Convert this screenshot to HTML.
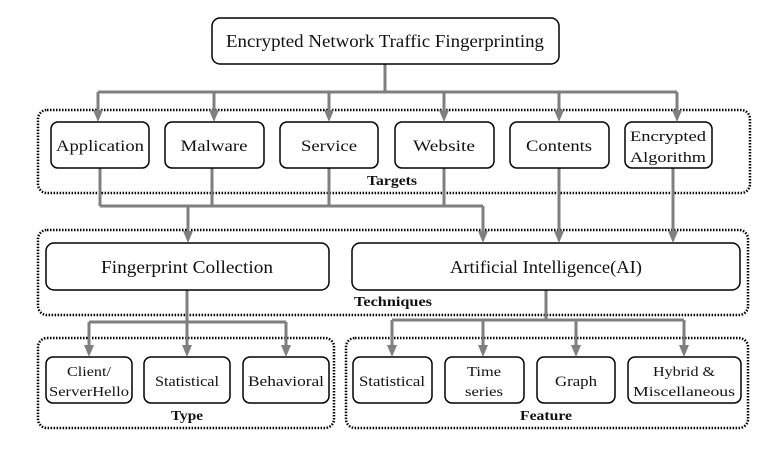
<!DOCTYPE html>
<html><head><meta charset="utf-8"><style>body{margin:0;background:#fff}svg{display:block}</style></head><body>
<svg width="768" height="450" viewBox="0 0 768 450" xmlns="http://www.w3.org/2000/svg" font-family="Liberation Serif, serif">
<g fill="none" stroke="#000" stroke-width="2.5" stroke-dasharray="1.5 1.5">
<rect x="38" y="110" width="712" height="83" rx="9"/>
<rect x="38" y="230" width="710" height="85" rx="9"/>
<rect x="38" y="338" width="296" height="90" rx="9"/>
<rect x="346" y="338" width="402" height="90" rx="9"/>
</g>
<g fill="none" stroke="#7f7f7f" stroke-width="3">
<path d="M385 64V92M98 92H677"/>
<path d="M98 92V112M214 92V112M329 92V112M444 92V112M559 92V112M677 92V112"/>
<path d="M100 168V206M212 168V206M329 168V206M444 168V206M100 206H483"/>
<path d="M188 206V233M483 206V233M559 168V233M673 168V233"/>
<path d="M187 290V322M89 322H286M546 290V320M392 320H684"/>
<path d="M89 322V347M187 322V347M286 322V347M392 320V347M483 320V347M576 320V347M684 320V347"/>
</g>
<g fill="#fff" stroke="#000" stroke-width="1.5">
<rect x="212" y="18" width="347" height="46" rx="8"/>
<rect x="51" y="122" width="98" height="46" rx="7"/>
<rect x="165" y="122" width="99" height="46" rx="7"/>
<rect x="280" y="122" width="98" height="46" rx="7"/>
<rect x="395" y="122" width="99" height="46" rx="7"/>
<rect x="510" y="122" width="99" height="46" rx="7"/>
<rect x="625" y="122" width="87" height="46" rx="7"/>
<rect x="46" y="243" width="283" height="47" rx="8"/>
<rect x="352" y="243" width="388" height="47" rx="8"/>
<rect x="46" y="357" width="86" height="46" rx="7"/>
<rect x="144" y="357" width="86" height="46" rx="7"/>
<rect x="243" y="357" width="86" height="46" rx="7"/>
<rect x="353" y="357" width="79" height="46" rx="7"/>
<rect x="445" y="357" width="79" height="46" rx="7"/>
<rect x="537" y="357" width="78" height="46" rx="7"/>
<rect x="628" y="357" width="113" height="46" rx="7"/>
</g>
<g fill="#7f7f7f">
<path d="M93 110H103L98 122Z"/><path d="M209 110H219L214 122Z"/><path d="M324 110H334L329 122Z"/><path d="M439 110H449L444 122Z"/><path d="M554 110H564L559 122Z"/><path d="M672 110H682L677 122Z"/>
<path d="M183 231H193L188 243Z"/><path d="M478 231H488L483 243Z"/><path d="M554 231H564L559 243Z"/><path d="M668 231H678L673 243Z"/>
<path d="M84 345H94L89 357Z"/><path d="M182 345H192L187 357Z"/><path d="M281 345H291L286 357Z"/><path d="M387 345H397L392 357Z"/><path d="M478 345H488L483 357Z"/><path d="M571 345H581L576 357Z"/><path d="M679 345H689L684 357Z"/>
</g>
<g text-anchor="middle" fill="#111" font-size="16" lengthAdjust="spacingAndGlyphs">
<text x="385" y="47" font-size="18" textLength="318" lengthAdjust="spacingAndGlyphs">Encrypted Network Traffic Fingerprinting</text>
<text x="100" y="151" textLength="88" lengthAdjust="spacingAndGlyphs">Application</text>
<text x="214" y="151" textLength="67" lengthAdjust="spacingAndGlyphs">Malware</text>
<text x="329" y="151" textLength="56" lengthAdjust="spacingAndGlyphs">Service</text>
<text x="444" y="151" textLength="62" lengthAdjust="spacingAndGlyphs">Website</text>
<text x="559" y="151" textLength="66" lengthAdjust="spacingAndGlyphs">Contents</text>
<text x="668" y="141" font-size="15" textLength="76" lengthAdjust="spacingAndGlyphs">Encrypted</text>
<text x="668" y="162" font-size="15" textLength="76" lengthAdjust="spacingAndGlyphs">Algorithm</text>
<text x="392" y="185" font-size="14" font-weight="bold" textLength="50" lengthAdjust="spacingAndGlyphs">Targets</text>
<text x="187" y="273" font-size="18" textLength="172" lengthAdjust="spacingAndGlyphs">Fingerprint Collection</text>
<text x="546" y="273" font-size="18" textLength="192" lengthAdjust="spacingAndGlyphs">Artificial Intelligence(AI)</text>
<text x="393" y="306" font-size="14" font-weight="bold" textLength="78" lengthAdjust="spacingAndGlyphs">Techniques</text>
<text x="89" y="376" font-size="14" textLength="44" lengthAdjust="spacingAndGlyphs">Client/</text>
<text x="89" y="396" font-size="14" textLength="80" lengthAdjust="spacingAndGlyphs">ServerHello</text>
<text x="187" y="386" font-size="15" textLength="64" lengthAdjust="spacingAndGlyphs">Statistical</text>
<text x="286" y="386" font-size="15" textLength="76" lengthAdjust="spacingAndGlyphs">Behavioral</text>
<text x="187" y="420" font-size="14" font-weight="bold" textLength="32" lengthAdjust="spacingAndGlyphs">Type</text>
<text x="392" y="386" font-size="15" textLength="66" lengthAdjust="spacingAndGlyphs">Statistical</text>
<text x="484" y="376" font-size="14" textLength="34" lengthAdjust="spacingAndGlyphs">Time</text>
<text x="484" y="396" font-size="14" textLength="38" lengthAdjust="spacingAndGlyphs">series</text>
<text x="576" y="386" font-size="15" textLength="42" lengthAdjust="spacingAndGlyphs">Graph</text>
<text x="684" y="376" font-size="14" textLength="62" lengthAdjust="spacingAndGlyphs">Hybrid &amp;</text>
<text x="684" y="396" font-size="14" textLength="102" lengthAdjust="spacingAndGlyphs">Miscellaneous</text>
<text x="546" y="420" font-size="14" font-weight="bold" textLength="52" lengthAdjust="spacingAndGlyphs">Feature</text>
</g>
</svg>
</body></html>
